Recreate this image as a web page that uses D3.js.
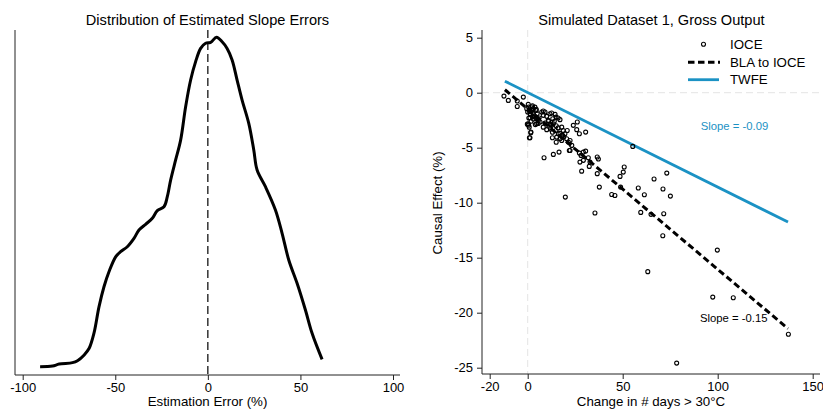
<!DOCTYPE html>
<html>

<head>
    <style>
        body { margin: 0; background: #fff; }
        text { font-family: "Liberation Sans", Arial, sans-serif; fill: #000; }
    </style>
</head>

<body>
    <script src="https://d3js.org/d3.v7.min.js"></script>
    <div id="chart"></div>
    <script>
        // left panel: kernel density of estimation errors
        const errorX = [-90.6, -83.9, -80.3, -73.1, -70.4, -66.8, -64.1, -61.5, -58.8, -56.1, -53.4, -49.8, -47.1, -43.5,
            -39.9, -37.2, -33.6, -30.0, -27.3, -23.7, -21.9, -20.1, -17.4, -14.7, -12.0, -9.3, -6.6, -3.9, -1.2, 1.5,
            4.7, 7.7, 10.4, 13.1, 15.8, 18.5, 22.1, 24.8, 26.6, 31.1, 36.5, 40.1, 43.7, 48.2, 52.7, 56.3, 61.7]
        const errorDensity = [0.00025, 0.00028, 0.00037, 0.00044, 0.00053, 0.00080, 0.00111, 0.00182, 0.00305, 0.00399,
            0.00469, 0.00539, 0.00563, 0.00586, 0.00625, 0.00664, 0.00691, 0.00719, 0.00755, 0.00773, 0.00820, 0.00898,
            0.00992, 0.01085, 0.01241, 0.01366, 0.01452, 0.01514, 0.01538, 0.01542, 0.01566, 0.01545, 0.01514, 0.01460,
            0.01366, 0.01272, 0.01163, 0.01039, 0.00945, 0.00867, 0.00758, 0.00649, 0.00524, 0.00415, 0.00290, 0.00181,
            0.00059]
        const leftTicks = [-100, -50, 0, 50, 100]

        // right panel: IOCE points, fitted lines
        const ioceX = [-12.5, -10.2, -5.5, -5.5, -2.3, 0.3, -0.2, 0.5, 0.9, 1.6,
            -0.5, 0.8, 0.0, 1.2, 2.1, 2.9, 3.8, 4.4, 2.9, 2.6, 1.2, 0.3, 0.8, 1.7, 1.2,
            3.8, 4.7, 5.6, 6.5, 4.7, 7.4, 8.2, 9.1, 8.2, 10.0, 11.7, 12.6, 14.4, 14.9, 13.2,
            10.8, 9.1, 8.2, 10.0, 11.7, 12.6, 13.5, 14.9, 16.1, 15.3, 17.0, 17.9, 18.4, 19.6,
            20.8, 17.0, 17.9, 18.7, 20.5, 21.4, 22.3, 23.2, 21.9, 24.0, 26.1, 25.8, 27.2, 30.5,
            0.5, 1.0, 1.5, 2.2, 3.0, 3.5, 1.8, 0.6, 4.0, 5.0, 5.5, 6.0, 4.5, 2.5,
            11.0, 12.0, 13.0, 14.0, 15.0, 16.0, 17.0, 18.0, 19.0, 13.0, 15.0, 12.0, 16.0,
            8.6, 13.5, 16.5, 19.8, 22.3, 27.2, 28.1, 29.3, 30.5, 27.5, 28.4, 29.3, 31.9, 32.8,
            32.4, 36.6, 37.2, 36.6, 37.7, 35.4, 44.2, 45.9, 48.6, 50.3, 50.8, 48.9, 55.3, 58.2,
            61.4, 59.5, 66.5, 71.2, 73.2, 75.1, 64.9, 71.6, 63.2, 71.1, 97.4, 99.8, 108.2, 78.4, 137.2]
        const ioceY = [-0.31, -0.70, -0.76, -1.25, -0.40, -1.06, -2.86, -2.95, -4.10, -3.64,
            -1.45, -1.55, -1.76, -1.91, -1.61, -1.45, -1.31, -1.61, -1.91, -2.15, -2.27, -2.82, -3.13, -3.58, -4.09,
            -2.22, -2.37, -2.52, -2.67, -2.82, -1.76, -1.67, -1.76, -2.06, -2.15, -1.91, -1.85, -1.97, -2.22, -2.37,
            -2.52, -2.76, -3.13, -3.36, -3.13, -2.97, -2.82, -3.43, -3.73, -4.04, -4.18, -4.34, -3.88, -3.73,
            -3.43, -2.45, -3.13, -3.43, -4.18, -4.49, -4.34, -4.79, -5.25, -2.97, -2.67, -3.36, -3.73, -3.58,
            -1.30, -1.70, -2.00, -1.30, -2.40, -2.10, -2.60, -2.30, -2.90, -1.90, -2.80, -2.30, -1.50, -1.20,
            -2.60, -3.30, -3.60, -2.60, -3.00, -3.20, -3.70, -3.90, -4.00, -4.10, -4.50, -2.90, -2.30,
            -5.91, -5.61, -5.40, -9.49, -5.25, -5.49, -5.70, -5.40, -5.31, -6.31, -7.13, -6.15, -5.91, -6.31,
            -6.70, -5.85, -6.03, -7.36, -8.58, -10.94, -9.25, -9.34, -7.61, -7.22, -6.76, -8.58, -4.88, -8.67,
            -9.28, -10.88, -7.85, -8.76, -7.31, -9.40, -11.06, -11.00, -16.27, -13.00, -18.58, -14.31, -18.64, -24.58, -21.96]
        const blaX = [-12, 137]
        const blaY = [0.27, -21.45]
        const twfeX = [-12, 137]
        const twfeY = [1.05, -11.76]
        const rightXTicks = [-20, 0, 50, 100, 150]
        const rightYTicks = [5, 0, -5, -10, -15, -20, -25]
        const legendLabels = ["IOCE", "BLA to IOCE", "TWFE"]
        const slopeLabels = ["Slope = -0.09", "Slope = -0.15"]

        const width = 823
        const height = 410
        const blue = "#1b92c4"
        const plain = d => String(d)   // hyphen minus, like the original

        const svg = d3.select("#chart").append("svg")
            .attr("width", width)
            .attr("height", height)

        // ---------- left panel ----------
        const lx = d3.scaleLinear().domain([-100, 100]).range([22.7, 393])
        const ly = d3.scaleLinear().domain([0, 0.016]).range([372, 30])

        svg.append("text")
            .attr("x", 207.5).attr("y", 25)
            .attr("text-anchor", "middle")
            .style("font-size", "14.6px")
            .text("Distribution of Estimated Slope Errors")

        svg.append("line")
            .attr("x1", 15).attr("x2", 15).attr("y1", 30).attr("y2", 375)
            .attr("stroke", "#222").attr("stroke-width", 1)

        const leftAxis = svg.append("g")
            .attr("transform", "translate(0,375)")
            .call(d3.axisBottom(lx).tickValues(leftTicks).tickFormat(plain).tickSize(5).tickPadding(3).tickSizeOuter(0))
        leftAxis.select(".domain").attr("d", "M15,0H400").attr("stroke", "#222")

        svg.append("text")
            .attr("x", 207.5).attr("y", 406)
            .attr("text-anchor", "middle")
            .style("font-size", "13.3px")
            .text("Estimation Error (%)")

        svg.append("line")
            .attr("x1", lx(0)).attr("x2", lx(0)).attr("y1", 30).attr("y2", 375)
            .attr("stroke", "#000").attr("stroke-width", 1.2)
            .attr("stroke-dasharray", "8,4")

        const densityLine = d3.line()
            .x((d, i) => lx(errorX[i]))
            .y(d => ly(d))
            .curve(d3.curveCatmullRom)

        svg.append("path")
            .attr("d", densityLine(errorDensity))
            .attr("fill", "none")
            .attr("stroke", "#000")
            .attr("stroke-width", 3)
            .attr("stroke-linejoin", "round")

        // ---------- right panel ----------
        const rx = d3.scaleLinear().domain([-20, 150]).range([489.7, 812.7])
        const ry = d3.scaleLinear().domain([-25, 5]).range([367.7, 37.7])

        svg.append("text")
            .attr("x", 651.5).attr("y", 25)
            .attr("text-anchor", "middle")
            .style("font-size", "14.6px")
            .text("Simulated Dataset 1, Gross Output")

        // light reference lines
        svg.append("line")
            .attr("x1", 482).attr("x2", 820).attr("y1", ry(0)).attr("y2", ry(0))
            .attr("stroke", "#e4e4e4").attr("stroke-width", 1).attr("stroke-dasharray", "7,4")
        svg.append("line")
            .attr("x1", rx(0)).attr("x2", rx(0)).attr("y1", 30).attr("y2", 374)
            .attr("stroke", "#e4e4e4").attr("stroke-width", 1).attr("stroke-dasharray", "7,4")

        const xAxisR = svg.append("g")
            .attr("transform", "translate(0,374)")
            .call(d3.axisBottom(rx).tickValues(rightXTicks).tickFormat(plain).tickSize(5).tickPadding(3).tickSizeOuter(0))
        xAxisR.select(".domain").attr("d", "M482,0H820").attr("stroke", "#222")

        const yAxisR = svg.append("g")
            .attr("transform", "translate(482,0)")
            .call(d3.axisLeft(ry).tickValues(rightYTicks).tickFormat(plain).tickSize(5).tickPadding(4).tickSizeOuter(0))
        yAxisR.select(".domain").attr("d", "M0,30V374").attr("stroke", "#222")

        svg.selectAll(".tick line").attr("stroke", "#222")
        svg.selectAll(".tick text")
            .style("font-size", "13px")
            .style("font-family", "Liberation Sans, Arial, sans-serif")
            .attr("fill", "#000")

        svg.append("text")
            .attr("x", 651).attr("y", 406)
            .attr("text-anchor", "middle")
            .style("font-size", "13.3px")
            .text("Change in # days > 30°C")

        svg.append("text")
            .attr("transform", "translate(441.5,203) rotate(-90)")
            .attr("text-anchor", "middle")
            .style("font-size", "13.3px")
            .text("Causal Effect (%)")

        // lines
        svg.append("line")
            .attr("x1", rx(twfeX[0])).attr("y1", ry(twfeY[0]))
            .attr("x2", rx(twfeX[1])).attr("y2", ry(twfeY[1]))
            .attr("stroke", blue).attr("stroke-width", 2.8)

        svg.append("line")
            .attr("x1", rx(blaX[0])).attr("y1", ry(blaY[0]))
            .attr("x2", rx(blaX[1])).attr("y2", ry(blaY[1]))
            .attr("stroke", "#000").attr("stroke-width", 3)
            .attr("stroke-dasharray", "6.5,3.5")

        svg.selectAll("circle.dot")
            .data(ioceX)
            .enter()
            .append("circle")
            .attr("class", "dot")
            .attr("cx", d => rx(d))
            .attr("cy", (d, i) => ry(ioceY[i]))
            .attr("r", 2)
            .attr("fill", "none")
            .attr("stroke", "#000")
            .attr("stroke-width", 1.1)

        svg.append("text")
            .attr("x", 700.7).attr("y", 130)
            .style("fill", blue)
            .style("font-size", "11.3px")
            .text(slopeLabels[0])
        svg.append("text")
            .attr("x", 700).attr("y", 321.5)
            .style("font-size", "11.3px")
            .text(slopeLabels[1])

        // legend
        const legend = svg.append("g").attr("id", "legend")
        legend.append("circle")
            .attr("cx", 703.5).attr("cy", 44.3).attr("r", 2)
            .attr("fill", "none").attr("stroke", "#000").attr("stroke-width", 1.1)
        legend.append("line")
            .attr("x1", 688).attr("x2", 720).attr("y1", 62.3).attr("y2", 62.3)
            .attr("stroke", "#000").attr("stroke-width", 3).attr("stroke-dasharray", "6.5,3.5")
        legend.append("line")
            .attr("x1", 688).attr("x2", 719).attr("y1", 79.7).attr("y2", 79.7)
            .attr("stroke", blue).attr("stroke-width", 2.8)
        legend.selectAll("text.legend-label")
            .data(legendLabels)
            .enter()
            .append("text")
            .attr("class", "legend-label")
            .attr("x", 730)
            .attr("y", (d, i) => 49 + i * 17.7)
            .style("font-size", "13.3px")
            .text(d => d)
    </script>
</body>

</html>
